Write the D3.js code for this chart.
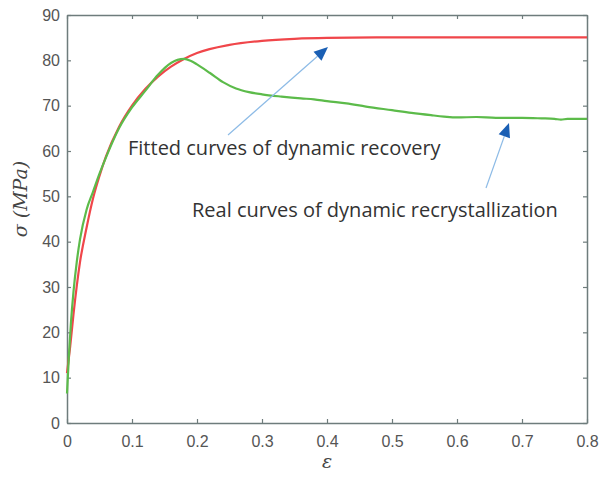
<!DOCTYPE html>
<html>
<head>
<meta charset="utf-8">
<script src="https://cdn.jsdelivr.net/npm/d3@7"></script>
<style>
  body { margin: 0; background: #fff; }
  .tick text { font-family: "Liberation Sans", Arial, sans-serif; font-size: 16px; fill: #555; }
  .note { font-family: "Open Sans", "Noto Sans", sans-serif; font-size: 20px; fill: #333; }
</style>
</head>
<body>
<svg id="chart" width="599" height="478"></svg>
<script>
// fitted curve of dynamic recovery (red)
const fitStrain = [0, 0.005, 0.01, 0.02, 0.03, 0.04, 0.05, 0.06, 0.08, 0.1, 0.12, 0.14, 0.16, 0.18, 0.2, 0.25, 0.3, 0.35, 0.4, 0.5, 0.6, 0.7, 0.8]
const fitStress = [11, 17, 24, 35.5, 43, 49.5, 54.5, 58.8, 65.3, 70, 73.6, 76.4, 78.6, 80.3, 81.6, 83.4, 84.3, 84.75, 84.95, 85.05, 85.05, 85.05, 85.05]

// real curve of dynamic recrystallization (green)
const realStrain = [0, 0.003, 0.006, 0.01, 0.015, 0.02, 0.03, 0.04, 0.05, 0.06, 0.08, 0.1, 0.12, 0.14, 0.16, 0.17, 0.18, 0.19, 0.2, 0.22, 0.24, 0.26, 0.28, 0.3, 0.33, 0.36, 0.38, 0.4, 0.43, 0.46, 0.5, 0.53, 0.56, 0.58, 0.6, 0.63, 0.66, 0.7, 0.73, 0.75, 0.76, 0.77, 0.8]
const realStress = [6.5, 15, 22, 29, 35.5, 40.5, 47, 51, 55, 58.6, 65, 69.6, 73.2, 76.8, 79.4, 80.1, 80.3, 79.9, 79.1, 77.2, 75.2, 73.8, 73, 72.5, 72, 71.6, 71.4, 71, 70.5, 69.8, 69, 68.4, 67.9, 67.6, 67.4, 67.5, 67.3, 67.3, 67.2, 67.1, 66.9, 67.1, 67.1]

const xTicks = [0, 0.1, 0.2, 0.3, 0.4, 0.5, 0.6, 0.7, 0.8]
const yTicks = [0, 10, 20, 30, 40, 50, 60, 70, 80, 90]

const svg = d3.select("#chart")
const margin = {left: 67, right: 12, top: 15, bottom: 55}
const W = 599, H = 478

const x = d3.scaleLinear().domain([0, 0.8]).range([margin.left, W - margin.right])
const y = d3.scaleLinear().domain([0, 90]).range([H - margin.bottom, margin.top])

const axisColor = "#6e7c7c"

// box axes with inward ticks, MATLAB style
const gx = svg.append("g")
    .attr("transform", "translate(0," + y(0) + ")")
    .call(d3.axisBottom(x).tickValues(xTicks).tickSizeInner(-4).tickSizeOuter(0).tickPadding(13)
        .tickFormat(d3.format("")))
const gy = svg.append("g")
    .attr("transform", "translate(" + x(0) + ",0)")
    .call(d3.axisLeft(y).tickValues(yTicks).tickSizeInner(-4).tickSizeOuter(0).tickPadding(7))
const gt = svg.append("g")
    .attr("transform", "translate(0," + y(90) + ")")
    .call(d3.axisTop(x).tickValues(xTicks).tickSizeInner(-4).tickSizeOuter(0).tickFormat(""))
const gr = svg.append("g")
    .attr("transform", "translate(" + x(0.8) + ",0)")
    .call(d3.axisRight(y).tickValues(yTicks).tickSizeInner(-4).tickSizeOuter(0).tickFormat(""))

svg.selectAll(".domain").attr("stroke", axisColor).attr("stroke-width", 1.5)
svg.selectAll(".tick line").attr("stroke", axisColor).attr("stroke-width", 1.2)
gx.selectAll(".tick text").attr("dy", "0.71em")

const line = d3.line()
    .x(d => x(d[0]))
    .y(d => y(d[1]))
    .curve(d3.curveMonotoneX)

svg.append("path")
    .datum(d3.zip(fitStrain, fitStress))
    .attr("d", line)
    .attr("fill", "none")
    .attr("stroke", "#f0464a")
    .attr("stroke-width", 2.2)

svg.append("path")
    .datum(d3.zip(realStrain, realStress))
    .attr("d", line)
    .attr("fill", "none")
    .attr("stroke", "#5cbb4a")
    .attr("stroke-width", 2.2)

// axis labels
svg.append("text")
    .attr("transform", "translate(" + 27 + "," + 199 + ") rotate(-90)")
    .attr("text-anchor", "middle")
    .style("font-family", "'DejaVu Serif', serif")
    .style("font-style", "italic")
    .style("font-size", "19px")
    .attr("fill", "#444")
    .text("σ (MPa)")

svg.append("text")
    .attr("x", x(0.4))
    .attr("y", 468)
    .attr("text-anchor", "middle")
    .style("font-family", "'DejaVu Serif', serif")
    .style("font-style", "italic")
    .style("font-size", "19px")
    .attr("fill", "#444")
    .text("ε")

// annotations with arrows
function arrow(x1, y1, x2, y2) {
    const ang = Math.atan2(y2 - y1, x2 - x1)
    const len = 14, half = 6
    const bx = x2 - len * Math.cos(ang), by = y2 - len * Math.sin(ang)
    svg.append("line")
        .attr("x1", x1).attr("y1", y1).attr("x2", bx).attr("y2", by)
        .attr("stroke", "#8dbbe6").attr("stroke-width", 1.2)
    const px = -Math.sin(ang) * half, py = Math.cos(ang) * half
    svg.append("path")
        .attr("d", "M" + x2 + "," + y2 + "L" + (bx + px) + "," + (by + py) + "L" + (bx - px) + "," + (by - py) + "Z")
        .attr("fill", "#1a5fb4")
}

arrow(228, 135, 328, 47)
arrow(486, 188, 509, 123)

svg.append("text").attr("class", "note")
    .attr("x", 128).attr("y", 155)
    .text("Fitted curves of dynamic recovery")

svg.append("text").attr("class", "note")
    .attr("x", 192).attr("y", 217)
    .text("Real curves of dynamic recrystallization")
</script>
</body>
</html>
